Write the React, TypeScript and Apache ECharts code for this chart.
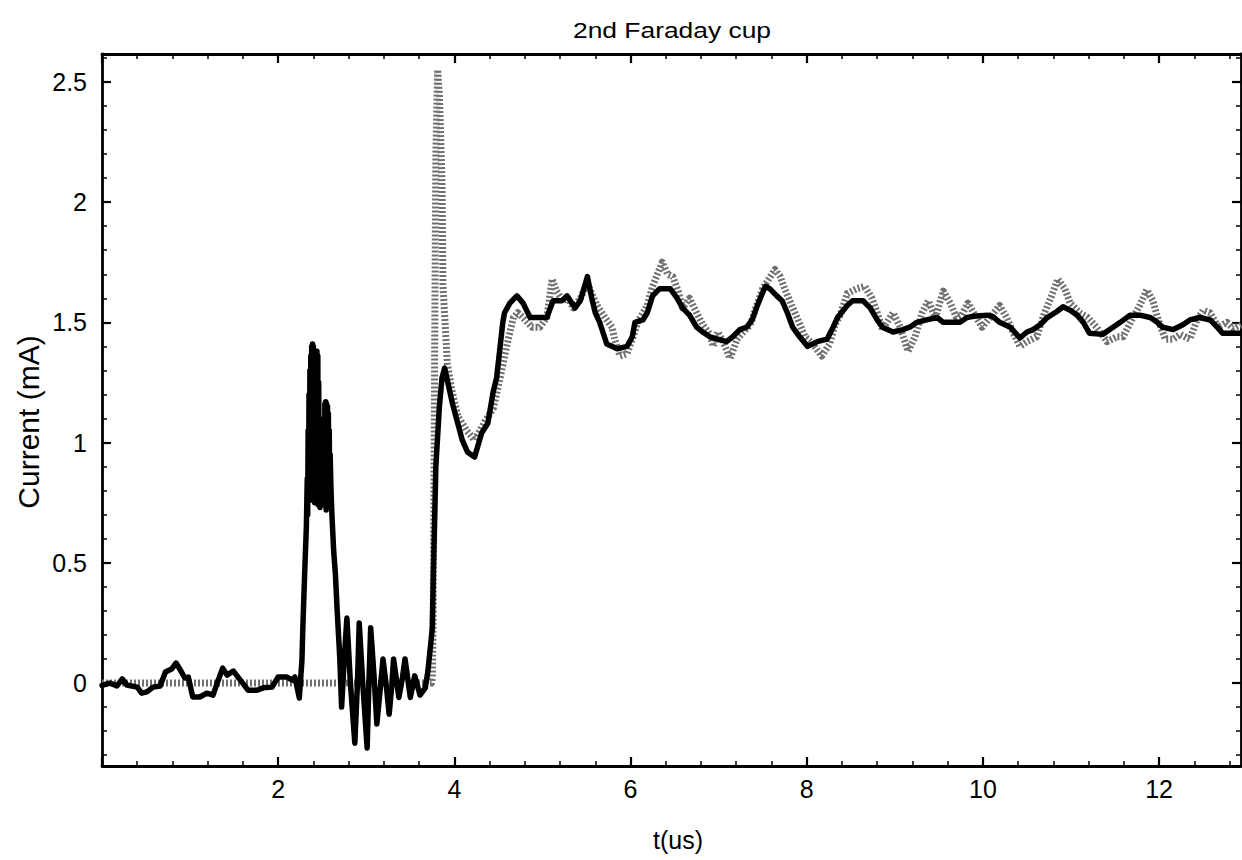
import React, { useEffect, useRef } from "react";
import * as echarts from "echarts";

// ---- Data (t in microseconds, current in mA) ----
const blackT = [
  0.0, 0.09, 0.17, 0.23, 0.28, 0.4, 0.45, 0.51, 0.58, 0.66, 0.72, 0.79, 0.84, 0.89, 0.94, 0.98,
  1.03, 1.11, 1.19, 1.26, 1.32, 1.37, 1.42, 1.49, 1.57, 1.66, 1.76, 1.83, 1.93, 2.0, 2.1, 2.16,
  2.19, 2.24, 2.27, 2.28, 2.3, 2.32, 2.33, 2.335, 2.34, 2.345, 2.35, 2.355, 2.36, 2.365, 2.37,
  2.375, 2.38, 2.385, 2.39, 2.395, 2.4, 2.405, 2.41, 2.415, 2.42, 2.425, 2.43, 2.435, 2.44, 2.445,
  2.45, 2.455, 2.46, 2.465, 2.47, 2.475, 2.48, 2.485, 2.49, 2.495, 2.5, 2.505, 2.51, 2.515, 2.52,
  2.525, 2.53, 2.535, 2.54, 2.545, 2.55, 2.555, 2.56, 2.565, 2.57, 2.575, 2.58, 2.585, 2.59, 2.6,
  2.61, 2.63, 2.65, 2.67, 2.7, 2.72, 2.75, 2.78, 2.82, 2.87, 2.9, 2.92, 2.96, 3.01, 3.03, 3.05,
  3.09, 3.12, 3.16, 3.19, 3.23, 3.26, 3.29, 3.31, 3.34, 3.37, 3.41, 3.44, 3.47, 3.5, 3.55, 3.61,
  3.67, 3.7, 3.75, 3.76, 3.79, 3.83, 3.86, 3.89, 3.98, 4.09, 4.15, 4.23, 4.31, 4.38, 4.44, 4.48,
  4.55, 4.57, 4.63, 4.71, 4.78, 4.86, 5.05, 5.12, 5.22, 5.28, 5.37, 5.43, 5.51, 5.56, 5.6, 5.65,
  5.73, 5.85, 5.96, 6.02, 6.05, 6.14, 6.19, 6.25, 6.33, 6.45, 6.53, 6.59, 6.67, 6.75, 6.82, 6.9,
  6.99, 7.09, 7.16, 7.24, 7.32, 7.38, 7.45, 7.53, 7.58, 7.66, 7.72, 7.78, 7.84, 7.92, 8.01, 8.12,
  8.23, 8.3, 8.35, 8.46, 8.52, 8.64, 8.72, 8.8, 8.86, 8.98, 9.09, 9.17, 9.25, 9.36, 9.48, 9.55,
  9.74, 9.82, 9.89, 10.05, 10.11, 10.19, 10.31, 10.42, 10.5, 10.57, 10.65, 10.73, 10.84, 10.91,
  10.99, 11.07, 11.14, 11.21, 11.36, 11.44, 11.56, 11.67, 11.78, 11.9, 11.98, 12.04, 12.16,
  12.27, 12.35, 12.46, 12.58, 12.66, 12.72, 12.93,
];
const blackI = [
  -0.01, 0.0, -0.012, 0.017, -0.008, -0.017, -0.042, -0.037, -0.017, -0.012, 0.046, 0.058, 0.083,
  0.054, 0.021, 0.025, -0.058, -0.058, -0.042, -0.05, 0.012, 0.062, 0.033, 0.05, 0.012, -0.03,
  -0.03, -0.02, -0.017, 0.025, 0.025, 0.012, 0.025, -0.062, 0.096, 0.23, 0.45, 0.65, 0.85, 0.7,
  1.05, 0.78, 1.2, 0.76, 1.3, 0.8, 1.36, 0.77, 1.4, 0.82, 1.41, 0.76, 1.4, 0.8, 1.38, 0.75, 1.38,
  0.8, 1.37, 0.76, 1.38, 0.78, 1.36, 0.74, 1.25, 0.78, 1.1, 0.73, 1.0, 0.76, 0.98, 0.74, 0.96,
  0.78, 1.0, 0.74, 1.05, 0.78, 1.16, 0.75, 1.17, 0.72, 1.16, 0.76, 1.15, 0.74, 1.12, 0.78, 1.05,
  0.76, 0.95, 0.8, 0.7, 0.55, 0.45, 0.3, 0.1, -0.1, 0.1, 0.27, 0.0, -0.25, 0.0, 0.25, 0.0, -0.27,
  0.0, 0.23, 0.02, -0.17, -0.02, 0.1, -0.02, -0.13, -0.01, 0.1, 0.02, -0.06, 0.02, 0.1, 0.02,
  -0.06, 0.03, -0.05, -0.02, 0.05, 0.23, 0.43, 0.9, 1.15, 1.27, 1.31, 1.16, 1.01, 0.96, 0.94,
  1.04, 1.08, 1.21, 1.27, 1.5, 1.54, 1.58, 1.61, 1.58, 1.52, 1.52, 1.59, 1.59, 1.61, 1.56, 1.59,
  1.69, 1.6, 1.54, 1.5, 1.41, 1.39, 1.4, 1.44, 1.5, 1.51, 1.54, 1.61, 1.64, 1.64, 1.6, 1.56, 1.53,
  1.48, 1.46, 1.44, 1.43, 1.42, 1.44, 1.47, 1.48, 1.51, 1.58, 1.65, 1.64, 1.61, 1.59, 1.54, 1.48,
  1.44, 1.4, 1.42, 1.43, 1.48, 1.52, 1.57, 1.59, 1.59, 1.56, 1.51, 1.48, 1.46, 1.47, 1.48, 1.5,
  1.51, 1.52, 1.5, 1.5, 1.52, 1.525, 1.53, 1.525, 1.5, 1.48, 1.435, 1.46, 1.47, 1.49, 1.52, 1.545,
  1.565, 1.55, 1.53, 1.5, 1.455, 1.45, 1.47, 1.5, 1.53, 1.53, 1.52, 1.5, 1.48, 1.47, 1.49, 1.51,
  1.52, 1.51, 1.48, 1.455, 1.455,
];

const grayT = [
  0.0, 3.74, 3.75, 3.76, 3.77, 3.78, 3.79, 3.81, 3.83, 3.86, 3.87, 3.92, 3.97, 4.04, 4.14, 4.23,
  4.35, 4.44, 4.52, 4.6, 4.67, 4.72, 4.78, 4.88, 4.97, 5.05, 5.11, 5.16, 5.23, 5.29, 5.35, 5.43,
  5.51, 5.56, 5.62, 5.71, 5.79, 5.82, 5.88, 5.96, 6.02, 6.08, 6.19, 6.25, 6.36, 6.42, 6.48, 6.54,
  6.59, 6.67, 6.75, 6.82, 6.9, 6.94, 6.99, 7.05, 7.13, 7.21, 7.28, 7.36, 7.43, 7.5, 7.64, 7.7,
  7.75, 7.83, 7.89, 7.98, 8.07, 8.17, 8.26, 8.32, 8.38, 8.46, 8.57, 8.66, 8.74, 8.8, 8.86, 8.98,
  9.06, 9.15, 9.23, 9.31, 9.38, 9.46, 9.55, 9.63, 9.7, 9.76, 9.83, 9.91, 9.99, 10.08, 10.19,
  10.27, 10.34, 10.42, 10.5, 10.61, 10.7, 10.78, 10.85, 10.93, 10.99, 11.1, 11.19, 11.29, 11.41,
  11.52, 11.59, 11.69, 11.78, 11.86, 11.93, 11.99, 12.07, 12.16, 12.24, 12.35, 12.43, 12.5,
  12.58, 12.67, 12.77, 12.84, 12.93,
];
const grayI = [
  0.0, 0.0, 0.02, 0.3, 0.9, 1.6, 2.2, 2.55, 2.45, 2.08, 1.66, 1.33, 1.22, 1.11, 1.05, 1.01, 1.09,
  1.14, 1.27, 1.41, 1.52, 1.54, 1.52, 1.48, 1.48, 1.52, 1.68, 1.63, 1.59, 1.6, 1.56, 1.6, 1.66,
  1.62, 1.57, 1.52, 1.48, 1.43, 1.36, 1.37, 1.43, 1.5, 1.57, 1.65, 1.75, 1.7, 1.69, 1.63, 1.56,
  1.6, 1.54, 1.49, 1.45, 1.4, 1.46, 1.42, 1.35, 1.43, 1.46, 1.49, 1.57, 1.64, 1.72, 1.69, 1.64,
  1.57, 1.52, 1.44, 1.41, 1.36, 1.41, 1.49, 1.53, 1.62, 1.64, 1.65, 1.6, 1.54, 1.47, 1.54, 1.48,
  1.38, 1.44, 1.54, 1.59, 1.52, 1.63, 1.58, 1.52, 1.53, 1.58, 1.53, 1.48, 1.52, 1.57, 1.52, 1.46,
  1.4, 1.42, 1.44, 1.54, 1.61, 1.68, 1.64, 1.58, 1.54, 1.52, 1.48, 1.42, 1.44, 1.44, 1.51, 1.57,
  1.635, 1.59, 1.51, 1.43, 1.43, 1.45, 1.43, 1.51, 1.55, 1.54, 1.48, 1.5, 1.475, 1.49,
];

// ---- Axis ticks and labels ----
const xMin = 0;
const xMax = 12.93;
const yMin = -0.345;
const yMax = 2.616;
const xMajorTicks = [0, 2, 4, 6, 8, 10, 12];
const xLabelValues = [2, 4, 6, 8, 10, 12];
const xMinorTicks = [
  0.4, 0.8, 1.2, 1.6, 2.4, 2.8, 3.2, 3.6, 4.4, 4.8, 5.2, 5.6, 6.4, 6.8, 7.2, 7.6, 8.4, 8.8, 9.2,
  9.6, 10.4, 10.8, 11.2, 11.6, 12.4, 12.8,
];
const yMajorTicks = [0, 0.5, 1, 1.5, 2, 2.5];
const yLabelValues = [0, 0.5, 1, 1.5, 2, 2.5];
const yMinorTicks = [
  -0.3, -0.2, -0.1, 0.1, 0.2, 0.3, 0.4, 0.6, 0.7, 0.8, 0.9, 1.1, 1.2, 1.3, 1.4, 1.6, 1.7, 1.8,
  1.9, 2.1, 2.2, 2.3, 2.4, 2.6,
];

const titleText = "2nd Faraday cup";
const xName = "t(us)";
const yName = "Current (mA)";

const FONT = "Liberation Sans, Arial, Helvetica, sans-serif";

function zip(t: number[], v: number[]) {
  return t.map((x, i) => [x, v[i]]);
}

function xAxisDef(position: "bottom" | "top", ticks: number[], major: boolean, labels: boolean) {
  return {
    type: "value",
    position,
    min: xMin,
    max: xMax,
    axisLine: { show: major, onZero: false, lineStyle: { color: "#000", width: 2.8 } },
    axisTick: {
      show: true,
      inside: true,
      length: major ? 9 : 5,
      customValues: ticks,
      lineStyle: { color: "#000", width: major ? 2.2 : 1.5 },
    },
    axisLabel: labels
      ? { show: true, customValues: xLabelValues, fontSize: 25, color: "#000", fontFamily: FONT, margin: 10 }
      : { show: false },
    splitLine: { show: false },
  };
}

function yAxisDef(position: "left" | "right", ticks: number[], major: boolean, labels: boolean) {
  return {
    type: "value",
    position,
    min: yMin,
    max: yMax,
    axisLine: { show: major, onZero: false, lineStyle: { color: "#000", width: 2.8 } },
    axisTick: {
      show: true,
      inside: true,
      length: major ? 9 : 5,
      customValues: ticks,
      lineStyle: { color: "#000", width: major ? 2.2 : 1.5 },
    },
    axisLabel: labels
      ? { show: true, customValues: yLabelValues, fontSize: 25, color: "#000", fontFamily: FONT, margin: 15 }
      : { show: false },
    splitLine: { show: false },
  };
}

export default function App() {
  const ref = useRef<HTMLDivElement>(null);

  useEffect(() => {
    if (!ref.current) return;
    const chart = echarts.init(ref.current, undefined, { renderer: "svg" });
    chart.setOption({
      animation: false,
      backgroundColor: "#fff",
      grid: { left: 102, right: 1, top: 54, bottom: 94, containLabel: false },
      xAxis: [
        xAxisDef("bottom", xMajorTicks, true, true),
        xAxisDef("bottom", xMinorTicks, false, false),
        xAxisDef("top", xMajorTicks, true, false),
        xAxisDef("top", xMinorTicks, false, false),
      ],
      yAxis: [
        yAxisDef("left", yMajorTicks, true, true),
        yAxisDef("left", yMinorTicks, false, false),
        yAxisDef("right", yMajorTicks, true, false),
        yAxisDef("right", yMinorTicks, false, false),
      ],
      graphic: [
        {
          type: "text",
          x: 672,
          y: 30,
          scaleX: 1.2,
          style: {
            text: titleText,
            fontSize: 22,
            fontFamily: FONT,
            fill: "#000",
            textAlign: "center",
            textVerticalAlign: "middle",
          },
        },
        {
          type: "text",
          x: 678,
          y: 840,
          style: {
            text: xName,
            fontSize: 25,
            fontFamily: FONT,
            fill: "#000",
            textAlign: "center",
            textVerticalAlign: "middle",
          },
        },
        {
          type: "text",
          x: 28,
          y: 422,
          rotation: Math.PI / 2,
          style: {
            text: yName,
            fontSize: 30,
            fontFamily: FONT,
            fill: "#000",
            textAlign: "center",
            textVerticalAlign: "middle",
          },
        },
      ],
      series: [
        {
          name: "gray",
          type: "line",
          xAxisIndex: 0,
          yAxisIndex: 0,
          data: zip(grayT, grayI),
          symbol: "none",
          showSymbol: false,
          clip: true,
          lineStyle: { color: "#707070", width: 7, type: [2, 2], cap: "butt", join: "round" },
          z: 2,
        },
        {
          name: "black",
          type: "line",
          xAxisIndex: 0,
          yAxisIndex: 0,
          data: zip(blackT, blackI),
          symbol: "none",
          showSymbol: false,
          clip: true,
          lineStyle: { color: "#000", width: 5.5, join: "round", cap: "round" },
          z: 3,
        },
      ],
    });
    return () => chart.dispose();
  }, []);

  return (
    <div
      ref={ref}
      style={{ position: "absolute", left: 0, top: 0, width: 1242, height: 860, background: "#fff" }}
    />
  );
}
